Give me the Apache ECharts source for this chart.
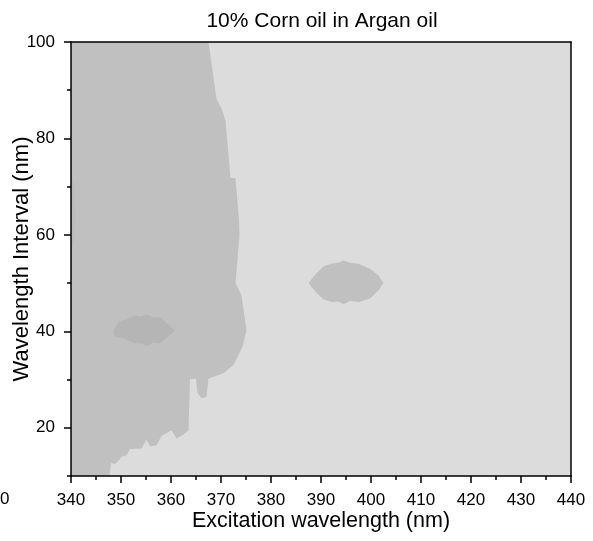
<!DOCTYPE html>
<html>
<head>
<meta charset="utf-8">
<script src="https://cdn.jsdelivr.net/npm/echarts@6/dist/echarts.min.js"></script>
<style>
  html, body { margin: 0; padding: 0; background: #fff; }
  #chart { width: 593px; height: 541px; }
</style>
</head>
<body>
<div id="chart"></div>
<script>
// Axis ranges and ticks
const xRange = [340, 440];
const yRange = [10, 100];
const yMajorTicks = [20, 40, 60, 80, 100];
const yMinorTicks = [10, 30, 50, 70, 90];

// Contour levels (outlines in data units: [excitation nm, interval nm])
const levelMid = [
  [340, 100], [367.5, 100], [369.1, 88.2], [370.1, 86.2], [370.9, 83.7],
  [371.9, 71.8], [372.9, 71.8], [373.6, 63], [373.7, 60], [372.9, 49.9],
  [374.1, 47.5], [375.1, 40.2], [374.3, 36.8], [372.5, 33], [370.5, 31.3],
  [367.5, 30.2], [367.1, 26.4], [366.1, 26.1], [365.3, 27.2], [365, 30.1],
  [363.8, 30.1], [363.5, 19.5], [362.8, 18.8], [361.1, 17.8], [360.1, 19.5],
  [358.1, 18.3], [357.1, 16.4], [355.8, 16.1], [355.1, 17.5], [354.1, 15.7],
  [351.8, 15.6], [351.1, 14.3], [350.1, 14], [349.8, 13.5], [348.8, 12.5],
  [348, 12.7], [347.7, 10], [340, 10]
];
const levelHighLeft = [
  [348.5, 40.2], [349.5, 41.9], [352.8, 43.3], [353.8, 43.1], [355.1, 43.5],
  [356.5, 42.9], [357.8, 42.9], [360.8, 40.2], [357.8, 37.5], [356.5, 37.7],
  [355.3, 37], [354.1, 37.5], [352.8, 37.5], [350.1, 38.7], [348.8, 38.8]
];
const levelMidRight = [
  [387.5, 50], [388.8, 51.7], [390.5, 53.5], [392.1, 54], [393.5, 54.2],
  [394.5, 54.7], [395.8, 54.2], [397.5, 54], [399.8, 53], [401.5, 51.6],
  [402.5, 50], [401.5, 48.5], [399.8, 46.8], [397.5, 46.1], [395.8, 46.3],
  [394.5, 45.6], [393.5, 46.2], [392.1, 46.1], [390.5, 46.6], [388.8, 48.3]
];
const levelEdge = [
  [340, 56], [340.7, 59], [340.9, 64], [340.7, 70], [340, 73]
];

const FONT = 'Liberation Sans, Arial, sans-serif';

function polygonSeries(name, points, color, z) {
  return {
    name: name,
    type: 'custom',
    coordinateSystem: 'cartesian2d',
    xAxisIndex: 0,
    yAxisIndex: 0,
    clip: true,
    z: z,
    silent: true,
    data: [points[0]],
    renderItem: function (params, api) {
      const pts = points.map(function (p) { return api.coord(p); });
      return {
        type: 'polygon',
        shape: { points: pts },
        style: { fill: color, stroke: null }
      };
    }
  };
}

const chart = echarts.init(document.getElementById('chart'), null, { renderer: 'canvas' });

const axisLine = { show: true, lineStyle: { color: '#000', width: 1.5 } };

chart.setOption({
  animation: false,
  backgroundColor: '#fff',
  title: {
    text: '10% Corn oil in Argan oil',
    left: 317,
    top: 6,
    textAlign: 'center',
    textStyle: { fontFamily: FONT, fontSize: 21, fontWeight: 'normal', color: '#000' }
  },
  grid: {
    left: 71, right: 22, top: 42, bottom: 65,
    outerBoundsMode: 'none',
    containLabel: false,
    show: true, backgroundColor: '#dcdcdc', borderWidth: 0
  },
  xAxis: [
    {
      type: 'value', min: xRange[0], max: xRange[1], interval: 10,
      position: 'bottom', z: 10,
      axisLine: axisLine,
      axisTick: { show: true, inside: false, length: 7, lineStyle: { color: '#000', width: 1.5 } },
      minorTick: { show: true, splitNumber: 2, length: 4, lineStyle: { color: '#000', width: 1.5 } },
      splitLine: { show: false },
      axisLabel: { fontFamily: FONT, fontSize: 17, color: '#000', margin: 16 },
      name: 'Excitation wavelength (nm)',
      nameLocation: 'middle',
      nameGap: 34,
      nameMoveOverlap: false,
      nameTextStyle: { fontFamily: FONT, fontSize: 21.5, color: '#000' }
    },
    {
      type: 'value', min: xRange[0], max: xRange[1], interval: 10,
      position: 'top', z: 10,
      axisLine: axisLine,
      axisTick: { show: false }, axisLabel: { show: false }, splitLine: { show: false }
    }
  ],
  yAxis: [
    {
      type: 'value', min: yRange[0], max: yRange[1], interval: 10,
      position: 'left', z: 10,
      axisLine: axisLine,
      axisTick: { show: true, inside: false, length: 7, customValues: yMajorTicks,
                  lineStyle: { color: '#000', width: 1.5 } },
      axisLabel: { fontFamily: FONT, fontSize: 17, color: '#000', margin: 16,
                   customValues: yMajorTicks },
      splitLine: { show: false },
      name: 'Wavelength Interval (nm)',
      nameLocation: 'middle',
      nameGap: 38,
      nameMoveOverlap: false,
      nameTextStyle: { fontFamily: FONT, fontSize: 22, color: '#000' }
    },
    {
      type: 'value', min: yRange[0], max: yRange[1], interval: 10,
      position: 'left', z: 10,
      axisLine: { show: false },
      axisTick: { show: true, inside: false, length: 4, customValues: yMinorTicks,
                  lineStyle: { color: '#000', width: 1.5 } },
      axisLabel: { show: false },
      splitLine: { show: false }
    },
    {
      type: 'value', min: yRange[0], max: yRange[1], interval: 10,
      position: 'right', z: 10,
      axisLine: axisLine,
      axisTick: { show: false }, axisLabel: { show: false }, splitLine: { show: false }
    }
  ],
  graphic: [
    {
      type: 'text', left: 0, top: 491, z: 20,
      style: { text: '0', fontFamily: FONT, fontSize: 17, fill: '#000' }
    }
  ],
  series: [
    polygonSeries('mid', levelMid, '#c0c0c0', 2),
    polygonSeries('edge', levelEdge, '#bbbbbb', 3),
    polygonSeries('highLeft', levelHighLeft, '#b5b5b5', 3),
    polygonSeries('midRight', levelMidRight, '#c0c0c0', 3)
  ]
});
</script>
</body>
</html>
